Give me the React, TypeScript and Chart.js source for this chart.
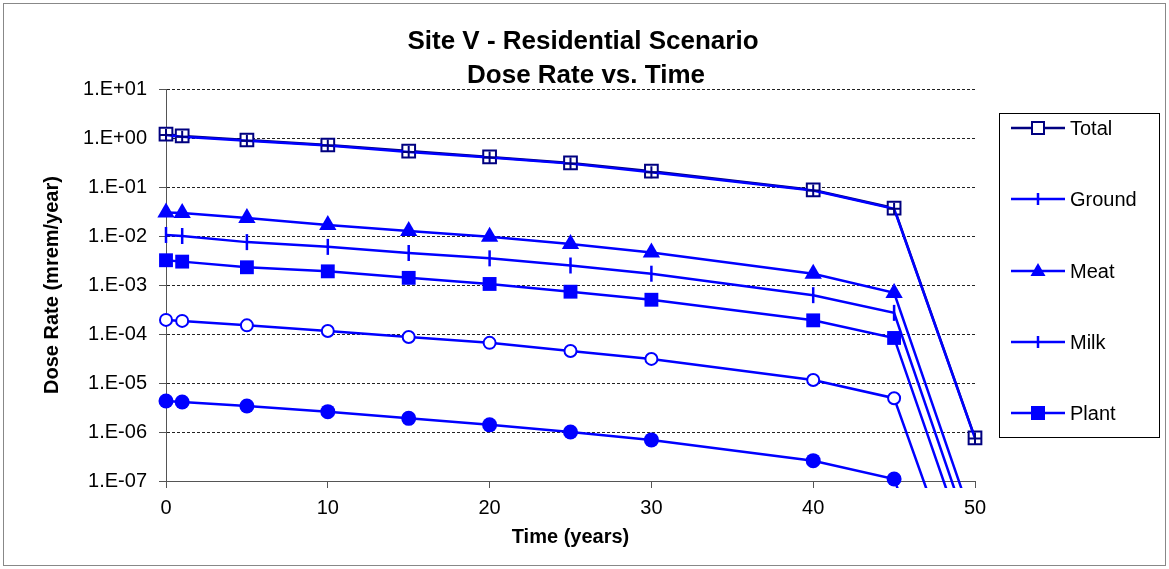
import React, { useEffect, useRef } from "react";
import { Chart, registerables } from "chart.js";

Chart.register(...registerables);

const years = [0, 1, 5, 10, 15, 20, 25, 30, 40, 45, 50];
const total = [1.2, 1.1, 0.91, 0.72, 0.54, 0.41, 0.31, 0.21, 0.087, 0.037, 7.6e-7];
const ground = [1.15, 1.06, 0.88, 0.7, 0.52, 0.4, 0.3, 0.2, 0.085, 0.036, 7.4e-7];
const meat = [0.03, 0.0295, 0.0234, 0.0168, 0.0127, 0.0097, 0.0069, 0.0046, 0.0017, 0.00069, 1.1e-8];
const milk = [0.0105, 0.01, 0.0075, 0.006, 0.0045, 0.0035, 0.0025, 0.0017, 0.00062, 0.00027, 4.1e-9];
const plant = [0.0032, 0.003, 0.0023, 0.0019, 0.0014, 0.00105, 0.00073, 0.0005, 0.00019, 8.3e-5, 1.4e-9];
const inhalation = [1.94e-4, 1.85e-4, 1.5e-4, 1.15e-4, 8.7e-5, 6.6e-5, 4.5e-5, 3.1e-5, 1.15e-5, 4.9e-6, 1.15e-10];
const soil = [4.3e-6, 4.1e-6, 3.4e-6, 2.6e-6, 1.9e-6, 1.4e-6, 1.0e-6, 6.9e-7, 2.6e-7, 1.1e-7, 3.5e-12];

const seriesNames = ["Total", "Ground", "Meat", "Milk", "Plant", "Inhalation", "Soil"];
const legendNames = ["Total", "Ground", "Meat", "Milk", "Plant"];

const yTickValues = [1e-7, 1e-6, 1e-5, 1e-4, 1e-3, 1e-2, 1e-1, 1, 10];
const yTickLabels = ["1.E-07", "1.E-06", "1.E-05", "1.E-04", "1.E-03", "1.E-02", "1.E-01", "1.E+00", "1.E+01"];
const xTickValues = [0, 10, 20, 30, 40, 50];

const titleLines = ["Site V - Residential Scenario", "Dose Rate vs. Time"];
const xTitle = "Time (years)";
const yTitle = "Dose Rate (mrem/year)";

const FONT = '"Liberation Sans", Arial, sans-serif';
const BLUE = "#0000FF";
const NAVY = "#000080";

function pts(vals: number[]) {
  return years.map((x, i) => ({ x, y: vals[i] }));
}

function drawMarker(ctx: CanvasRenderingContext2D, kind: string, x: number, y: number) {
  ctx.save();
  ctx.setLineDash([]);
  if (kind === "Total") {
    ctx.fillStyle = "#fff";
    ctx.strokeStyle = NAVY;
    ctx.lineWidth = 2;
    ctx.fillRect(x - 6, y - 6, 12, 12);
    ctx.strokeRect(x - 6, y - 6, 12, 12);
  } else if (kind === "Ground") {
    ctx.strokeStyle = BLUE;
    ctx.lineWidth = 2.5;
    ctx.beginPath();
    ctx.moveTo(x, y - 6);
    ctx.lineTo(x, y + 6);
    ctx.stroke();
  } else if (kind === "Meat") {
    ctx.fillStyle = BLUE;
    ctx.beginPath();
    ctx.moveTo(x, y - 8);
    ctx.lineTo(x + 7.5, y + 5);
    ctx.lineTo(x - 7.5, y + 5);
    ctx.closePath();
    ctx.fill();
  } else if (kind === "Milk") {
    ctx.strokeStyle = BLUE;
    ctx.lineWidth = 2.5;
    ctx.beginPath();
    ctx.moveTo(x, y - 6);
    ctx.lineTo(x, y + 6);
    ctx.stroke();
  } else if (kind === "Plant") {
    ctx.fillStyle = BLUE;
    ctx.fillRect(x - 7, y - 7, 14, 14);
  }
  ctx.restore();
}

const decorPlugin = {
  id: "decor",
  beforeDraw(chart: any) {
    const ctx = chart.ctx as CanvasRenderingContext2D;
    ctx.save();
    ctx.fillStyle = "#fff";
    ctx.fillRect(0, 0, chart.width, chart.height);
    ctx.strokeStyle = "#888";
    ctx.lineWidth = 1;
    ctx.strokeRect(3.5, 3.5, 1162, 562);
    ctx.restore();
  },
  afterDraw(chart: any) {
    const ctx = chart.ctx as CanvasRenderingContext2D;
    const area = chart.chartArea;
    ctx.save();
    ctx.fillStyle = "#000";
    ctx.textAlign = "center";
    ctx.textBaseline = "middle";
    ctx.font = `bold 26px ${FONT}`;
    ctx.fillText(titleLines[0], 583, 42);
    ctx.fillText(titleLines[1], 586, 76);

    ctx.font = `bold 20px ${FONT}`;
    ctx.fillText(xTitle, (area.left + area.right) / 2, 537);

    ctx.save();
    ctx.translate(52, (area.top + area.bottom) / 2);
    ctx.rotate(-Math.PI / 2);
    ctx.fillText(yTitle, 0, 0);
    ctx.restore();

    // legend box
    ctx.strokeStyle = "#000";
    ctx.lineWidth = 1;
    ctx.strokeRect(999.5, 113.5, 160, 324);
    const ys = [128, 199, 271, 342, 413];
    ctx.font = `20px ${FONT}`;
    ctx.textAlign = "left";
    legendNames.forEach((name, i) => {
      const y = ys[i];
      ctx.strokeStyle = name === "Total" ? NAVY : BLUE;
      ctx.lineWidth = 2.5;
      ctx.beginPath();
      ctx.moveTo(1011, y);
      ctx.lineTo(1065, y);
      ctx.stroke();
      drawMarker(ctx, name, 1038, y);
      ctx.fillStyle = "#000";
      ctx.fillText(name, 1070, y + 1);
    });
    ctx.restore();
  },
};

export default function App() {
  const ref = useRef<HTMLCanvasElement | null>(null);
  useEffect(() => {
    if (!ref.current) return;
    const common = {
      borderWidth: 2.5,
      pointBorderWidth: 2,
      tension: 0,
      fill: false,
      clip: { left: 15, top: 15, right: 15, bottom: 7 },
    };
    const chart = new Chart(ref.current, {
      type: "line",
      data: {
        datasets: [
          {
            ...common,
            label: seriesNames[0],
            data: pts(total),
            borderColor: NAVY,
            pointStyle: "rect",
            pointRadius: 9,
            pointBorderColor: NAVY,
            pointBackgroundColor: "#fff",
            order: 2,
          },
          {
            ...common,
            label: seriesNames[1],
            data: pts(ground),
            borderColor: BLUE,
            pointStyle: "cross",
            pointRadius: 6,
            pointBorderColor: NAVY,
            pointBorderWidth: 2,
            order: 1,
          },
          {
            ...common,
            label: seriesNames[2],
            data: pts(meat),
            borderColor: BLUE,
            pointStyle: "triangle",
            pointRadius: 10,
            pointBorderWidth: 0,
            pointBackgroundColor: BLUE,
            pointBorderColor: BLUE,
          },
          {
            ...common,
            label: seriesNames[3],
            data: pts(milk),
            borderColor: BLUE,
            pointStyle: "line",
            pointRotation: 90,
            pointRadius: 8,
            pointBorderWidth: 2.5,
            pointBorderColor: BLUE,
          },
          {
            ...common,
            label: seriesNames[4],
            data: pts(plant),
            borderColor: BLUE,
            pointStyle: "rect",
            pointRadius: 9.8,
            pointBorderWidth: 0,
            pointBackgroundColor: BLUE,
            pointBorderColor: BLUE,
          },
          {
            ...common,
            label: seriesNames[5],
            data: pts(inhalation),
            borderColor: BLUE,
            pointStyle: "circle",
            pointRadius: 6,
            pointBorderWidth: 2,
            pointBackgroundColor: "#fff",
            pointBorderColor: BLUE,
          },
          {
            ...common,
            label: seriesNames[6],
            data: pts(soil),
            borderColor: BLUE,
            pointStyle: "circle",
            pointRadius: 7.5,
            pointBorderWidth: 0,
            pointBackgroundColor: BLUE,
            pointBorderColor: BLUE,
          },
        ],
      },
      options: {
        animation: false,
        responsive: false,
        devicePixelRatio: 1,
        layout: { padding: { left: 0, top: 89, right: 194, bottom: 0 } },
        plugins: {
          legend: { display: false },
          title: { display: false },
          tooltip: { enabled: false },
        },
        scales: {
          x: {
            type: "linear",
            min: 0,
            max: 50,
            afterBuildTicks: (scale: any) => {
              scale.ticks = xTickValues.map((v) => ({ value: v }));
            },
            afterFit: (scale: any) => {
              scale.height = 88;
            },
            grid: {
              drawOnChartArea: false,
              drawTicks: true,
              tickLength: 7,
              tickColor: "#555",
              tickWidth: 1,
            },
            border: { display: true, color: "#555", width: 1 },
            ticks: {
              color: "#000",
              font: { family: FONT, size: 20 },
              padding: 8,
              maxRotation: 0,
              autoSkip: false,
            },
          },
          y: {
            type: "logarithmic",
            min: 1e-7,
            max: 10,
            afterBuildTicks: (scale: any) => {
              scale.ticks = yTickValues.map((v) => ({ value: v }));
            },
            afterFit: (scale: any) => {
              scale.width = 166;
            },
            grid: {
              drawTicks: true,
              tickLength: 7,
              tickColor: "#555",
              tickWidth: 1,
              tickBorderDash: [],
              lineWidth: 1,
              color: (c: any) => (c.index === 0 ? "rgba(0,0,0,0)" : "#222"),
            },
            border: { display: true, color: "#555", width: 1, dash: [3, 2] },
            ticks: {
              color: "#000",
              font: { family: FONT, size: 20 },
              padding: 12,
              autoSkip: false,
              callback: (_v: any, i: number) => yTickLabels[i],
            },
          },
        },
      } as any,
      plugins: [decorPlugin],
    });
    return () => chart.destroy();
  }, []);

  return (
    <div style={{ position: "fixed", left: 0, top: 0, width: 1169, height: 569, background: "#fff" }}>
      <canvas ref={ref} width={1169} height={569} style={{ display: "block" }} />
    </div>
  );
}
